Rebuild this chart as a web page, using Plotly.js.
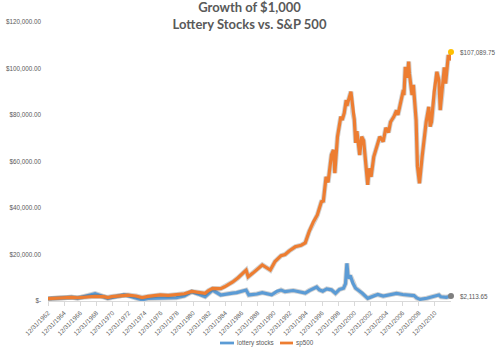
<!DOCTYPE html>
<html>
<head>
<meta charset="utf-8">
<script src="https://cdn.plot.ly/plotly-3.0.1.min.js"></script>
<style>html,body{margin:0;padding:0;background:#fff}#chart{width:500px;height:352px}</style>
</head>
<body>
<div id="chart"></div>
<script>
const seriesNames = ["lottery stocks", "sp500"];

const spDates = ["1962-12-31","1963-12","1964-12","1965-12","1966-09","1967-12","1968-11","1969-12","1970-06","1970-12",
"1971-12","1972-12","1973-12","1974-09","1975-06","1976-12","1977-12","1978-12","1979-12","1980-11",
"1981-09","1982-07","1982-12","1983-06","1984-06","1984-12","1985-12","1986-08","1987-08","1987-11",
"1988-06","1989-08","1990-08","1991-03","1991-12","1992-06","1992-12","1993-09","1994-06","1994-12",
"1995-06","1995-12","1996-06","1996-12","1997-03","1997-07","1997-10","1998-03","1998-06","1998-08",
"1998-12","1999-05","1999-07","1999-10","2000-01","2000-02","2000-08","2000-11","2001-01","2001-03",
"2001-05","2001-09","2001-12","2002-03","2002-07","2002-09","2002-11","2003-02","2003-06","2003-12",
"2004-03","2004-08","2004-12","2005-04","2005-07","2005-12","2006-04","2006-06","2006-12","2007-02",
"2007-03","2007-05","2007-08","2007-10","2007-11","2008-01","2008-03","2008-05","2008-07","2008-09",
"2008-11","2009-02","2009-06","2009-10","2009-12","2010-04","2010-06","2010-08","2010-12","2011-04",
"2011-07","2011-09","2011-12","2012-03","2012-05","2012-09","2012-11","2012-12-31"];
const spValues = [1000,1250,1450,1600,1400,1800,2000,1850,1500,1900,
2150,2550,2150,1500,2000,2600,2400,2600,3100,4100,
3700,3300,4500,5400,5300,6100,8200,10000,13300,10400,
12000,15500,13300,17000,19500,20000,21500,23300,24000,25000,
30000,34000,37000,42700,43000,53400,51000,62800,65000,55000,
70700,79300,77800,80800,86400,84000,90000,80800,78000,68000,
73000,62800,70700,69000,56300,50000,57000,53400,62000,68000,
70700,68500,74500,72500,77000,79300,82000,80000,88000,90700,
88500,100700,96000,103000,98000,92000,88600,93000,86000,77800,
58000,50600,62000,73500,77000,83500,75000,77000,90000,98600,
95000,82100,90000,100500,93500,105800,103500,107089.75];

const lotDates = ["1962-12-31","1963-12","1964-12","1965-12","1966-09","1967-12","1968-11","1969-06","1970-06","1971-06",
"1972-06","1972-12","1973-12","1974-09","1975-06","1976-12","1977-12","1978-12","1979-12","1980-11",
"1981-09","1982-07","1983-06","1984-06","1985-12","1986-06","1987-08","1987-12","1988-12","1989-08",
"1990-10","1991-06","1991-12","1992-06","1993-06","1994-06","1994-12","1995-06","1996-05","1996-09",
"1997-02","1997-08","1998-03","1998-09","1999-03","1999-09","1999-12","2000-02","2000-04","2000-07",
"2000-11","2001-03","2001-07","2002-01","2002-09","2003-06","2003-12","2004-08","2005-06","2006-04",
"2007-01","2007-06","2008-06","2008-10","2009-03","2010-01","2010-12","2011-07","2011-10","2012-06","2012-12-31"];
const lotValues = [1000,1200,1300,1600,1200,2300,3200,2500,1100,1900,
2600,2300,1200,500,1100,1400,1300,1400,2200,4000,
3000,1900,4700,2600,3400,3600,4700,2600,3000,3600,
2700,4200,4700,4000,4500,3800,3400,4500,6000,4800,
4200,5200,4800,3300,5000,5500,7500,16200,9700,11000,
7600,5500,4700,3300,1150,2300,2800,2100,2800,3300,
2800,2700,2300,1300,700,1200,2000,2600,1800,1600,2113.65];

const yTicks = [0,20000,40000,60000,80000,100000,120000];
const xTickDates = ["1962-12-31","1964-12-31","1966-12-31","1968-12-31","1970-12-31","1972-12-31","1974-12-31",
"1976-12-31","1978-12-31","1980-12-31","1982-12-31","1984-12-31","1986-12-31","1988-12-31","1990-12-31",
"1992-12-31","1994-12-31","1996-12-31","1998-12-31","2000-12-31","2002-12-31","2004-12-31","2006-12-31",
"2008-12-31","2010-12-31"];
const xRange = ["1962-12-31","2012-12-31"];

function money(v){
  if (v === 0) return "$-";
  return "$" + v.toLocaleString("en-US",{minimumFractionDigits:2,maximumFractionDigits:2});
}
function mdY(d){
  const p = d.split("-");
  return p[1] + "/" + p[2] + "/" + p[0];
}

// layout geometry (pixels)
const L = 48, R = 49, T = 22, B = 51, Wd = 500, Ht = 352;
const pw = Wd - L - R, ph = Ht - T - B;
const px = x => (x - L) / pw;
const py = y => (Ht - B - y) / ph;

const blue = "#5B9BD5", orange = "#ED7D31", grey = "#595959";
const tickFont = {family: "Liberation Sans, Arial", size: 6.3, color: grey};

function shadow(x, y){
  return {x, y, type: "scatter", mode: "lines", line: {color: "rgba(70,70,70,0.25)", width: 5}, showlegend: false, hoverinfo: "skip"};
}

const traces = [
  shadow(lotDates, lotValues),
  {x: lotDates, y: lotValues, type: "scatter", mode: "lines", name: seriesNames[0], line: {color: blue, width: 3.2}, showlegend: false},
  shadow(spDates, spValues),
  {x: spDates, y: spValues, type: "scatter", mode: "lines", name: seriesNames[1], line: {color: orange, width: 3.2}, showlegend: false},
  {x: [lotDates[lotDates.length-1]], y: [lotValues[lotValues.length-1]], type: "scatter", mode: "markers",
   marker: {color: "#7F7F7F", size: 6}, showlegend: false, cliponaxis: false},
  {x: [spDates[spDates.length-1]], y: [spValues[spValues.length-1]], type: "scatter", mode: "markers",
   marker: {color: "#FFC000", size: 6}, showlegend: false, cliponaxis: false}
];

const layout = {
  width: Wd, height: Ht,
  margin: {l: L, r: R, t: T, b: B, pad: 0},
  paper_bgcolor: "#fff", plot_bgcolor: "#fff",
  showlegend: false,
  title: {
    text: "Growth of $1,000<br>Lottery Stocks vs. S&P 500",
    font: {family: "Lato, Open Sans, sans-serif", size: 13, color: grey, weight: "bold"},
    x: 0.5, xref: "paper", xanchor: "center",
    y: 1 - 12 / Ht, yref: "container", yanchor: "middle", pad: {t: 0, b: 0}
  },
  xaxis: {
    type: "date", range: xRange,
    tickmode: "array", tickvals: xTickDates, ticktext: xTickDates.map(mdY),
    tickangle: -45, tickfont: tickFont,
    showgrid: false, zeroline: false,
    showline: true, linecolor: "#D9D9D9", linewidth: 1,
    ticks: "outside", ticklen: 4, tickcolor: "#D9D9D9",
    ticklabelstandoff: 1
  },
  yaxis: {
    range: [0, 120000], tickvals: yTicks, ticktext: yTicks.map(money),
    tickfont: tickFont, showgrid: false, zeroline: false, showline: false,
    ticks: "", ticklabelstandoff: 6
  },
  annotations: [
    {x: spDates[spDates.length-1], y: spValues[spValues.length-1], xref: "x", yref: "y",
     text: money(spValues[spValues.length-1]), showarrow: false, xanchor: "left", xshift: 7,
     font: tickFont},
    {x: lotDates[lotDates.length-1], y: lotValues[lotValues.length-1], xref: "x", yref: "y",
     text: money(lotValues[lotValues.length-1]), showarrow: false, xanchor: "left", xshift: 7,
     font: tickFont},
    {x: px(235), y: py(343), xref: "paper", yref: "paper", text: seriesNames[0], showarrow: false,
     xanchor: "left", yanchor: "middle", font: tickFont},
    {x: px(294), y: py(343), xref: "paper", yref: "paper", text: seriesNames[1], showarrow: false,
     xanchor: "left", yanchor: "middle", font: tickFont}
  ],
  shapes: [
    {type: "line", xref: "paper", yref: "paper", x0: px(220), x1: px(234), y0: py(343), y1: py(343), line: {color: blue, width: 2.75}},
    {type: "line", xref: "paper", yref: "paper", x0: px(280), x1: px(293), y0: py(343), y1: py(343), line: {color: orange, width: 2.75}}
  ]
};

Plotly.newPlot("chart", traces, layout, {staticPlot: true, displayModeBar: false});
</script>
</body>
</html>
